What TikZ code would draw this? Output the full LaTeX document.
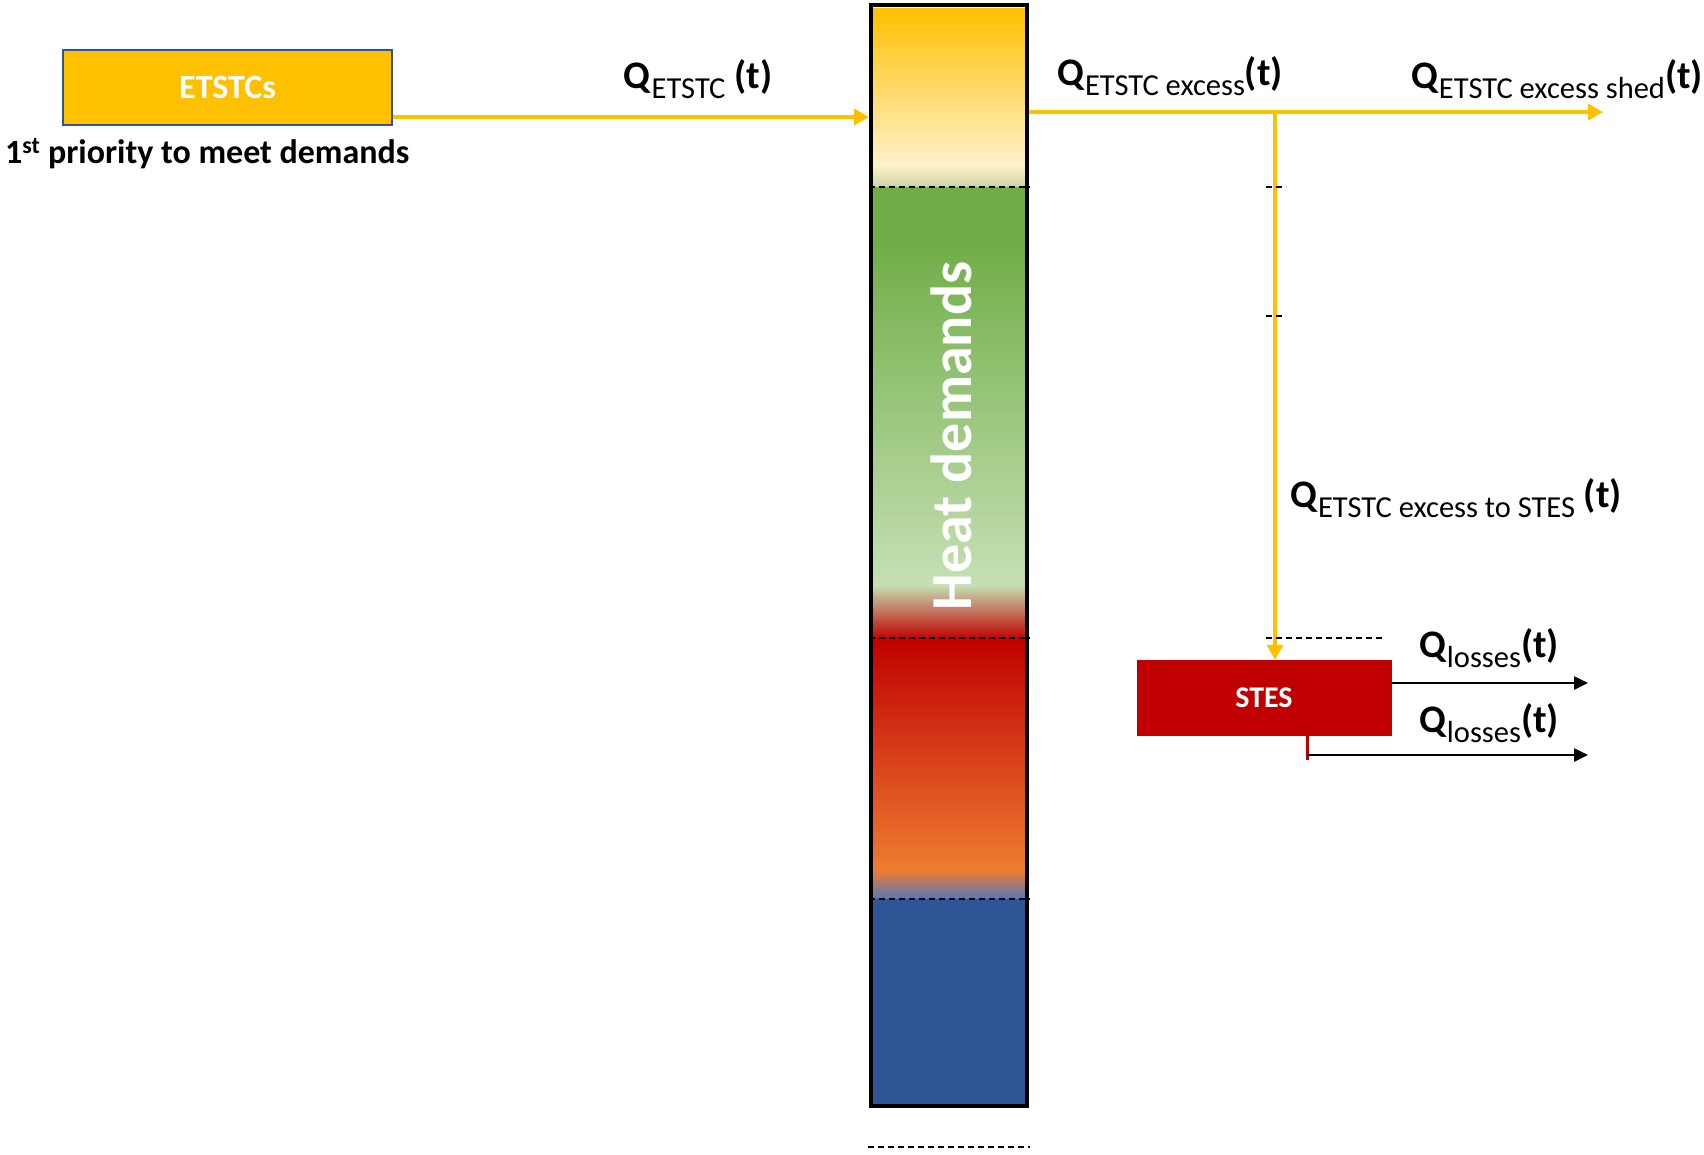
\documentclass[tikz,border=0pt]{standalone}
\usepackage{fontspec}
\setmainfont{Carlito}
\usetikzlibrary{arrows.meta,positioning}

\definecolor{etsyellow}{HTML}{FFC000}
\definecolor{etsborder}{HTML}{2F5597}
\definecolor{cream}{HTML}{FFF2CC}
\definecolor{greenmix}{HTML}{C9D3A0}
\definecolor{heatgreen}{HTML}{70AD47}
\definecolor{lightgreen}{HTML}{C5E0B4}
\definecolor{stesred}{HTML}{C00000}
\definecolor{heatorange}{HTML}{ED7D31}
\definecolor{midblue}{HTML}{5276C0}
\definecolor{heatblue}{HTML}{2F5597}

\newcommand{\qlab}[2]{\textbf{Q}\raisebox{-10pt}{\fontsize{30.5}{32}\selectfont #1}\textbf{#2}}

\begin{document}
\begin{tikzpicture}[x=1pt, y=-1pt,
    box/.style={rectangle, inner sep=0pt, text=white, font=\fontsize{34}{40}\selectfont\bfseries},
    flow/.style={draw=etsyellow, line width=4pt, -{Triangle[length=15pt,width=16pt]}},
    loss/.style={draw=black, line width=2.5pt, -{Triangle[length=14pt,width=13pt]}},
    qtext/.style={inner sep=0pt, anchor=base, font=\fontsize{39}{44}\selectfont},
    level/.style={dashed, dash pattern=on 6pt off 4pt, line width=1.6pt}]
  \useasboundingbox (0,0) rectangle (1704,1154);

  % storage column
  \foreach \ya/\yb/\ca/\cb in {8/166/etsyellow/cream, 165/188/cream/greenmix,
      187/241/heatgreen/heatgreen, 240/586/heatgreen/lightgreen,
      585/639/lightgreen/stesred, 638/871/stesred/heatorange,
      870/900/heatorange/midblue, 899/1105/heatblue/heatblue}
    \fill[top color=\ca, bottom color=\cb] (873,\ya) rectangle (1025,\yb);
  \node[draw, line width=4pt, minimum width=156pt, minimum height=1101pt,
    inner sep=0pt] (tank) at (949,555.5) {};
  \foreach \y in {187,638,899}
    \draw[level] (869,\y) -- (1030,\y);
  \draw[level] (868,1147) -- (1030,1147);
  \node[rotate=90, text=white, inner sep=0pt,
    font=\fontsize{58}{60}\selectfont\bfseries] (heat) at (951,436) {Heat demands};

  % sources and store
  \node[box, fill=etsyellow, draw=etsborder, line width=2pt,
    minimum width=329pt, minimum height=75pt] (etstc) at (227.5,87.5) {ETSTCs};
  \node[anchor=base west, inner sep=0pt, font=\fontsize{34}{40}\selectfont\bfseries]
    (prio) at (5,163) {1\textsuperscript{st} priority to meet demands};
  \node[box, fill=stesred, minimum width=255pt, minimum height=76pt,
    font=\fontsize{30}{36}\selectfont\bfseries] (stes) at (1264,698) {STES};

  \coordinate (tin) at (869,117);
  \coordinate (tout) at (1029,112);
  \coordinate (split) at (1275,112);
  \coordinate (shed) at (1603,112);
  \coordinate (loss1) at (1588,683);
  \coordinate (tap) at (1307,755);
  \coordinate (loss2) at (1588,755);

  \draw[flow] (etstc.east |- tin) -- (tank.west |- tin);
  \draw[flow] (tank.east |- tout) -- (shed);
  \draw[flow] (split) -- (split |- stes.north);
  \draw[level] (1266,187) -- (1286,187);
  \draw[level] (1266,316) -- (1286,316);
  \draw[level] (1266,638) -- (1383,638);
  \draw[loss] (stes.east |- loss1) -- (loss1);
  \draw[stesred, line width=3pt] (tap |- stes.south) -- ([yshift=-5pt]tap);
  \draw[loss] (tap) -- (loss2);

  % flow labels
  \node[qtext] (qin) at (698,88) {\qlab{ETSTC}{ (t)}};
  \node[qtext] (qexc) at (1170,85) {\qlab{ETSTC excess}{(t)}};
  \node[qtext] (qshed) at (1557,88) {\qlab{ETSTC excess shed}{(t)}};
  \node[qtext] (qsto) at (1456,507) {\qlab{ETSTC excess to STES}{ (t)}};
  \node[qtext] (qlossa) at (1489,657) {\qlab{losses}{(t)}};
  \node[qtext] (qlossb) at (1489,732) {\qlab{losses}{(t)}};
\end{tikzpicture}
\end{document}
